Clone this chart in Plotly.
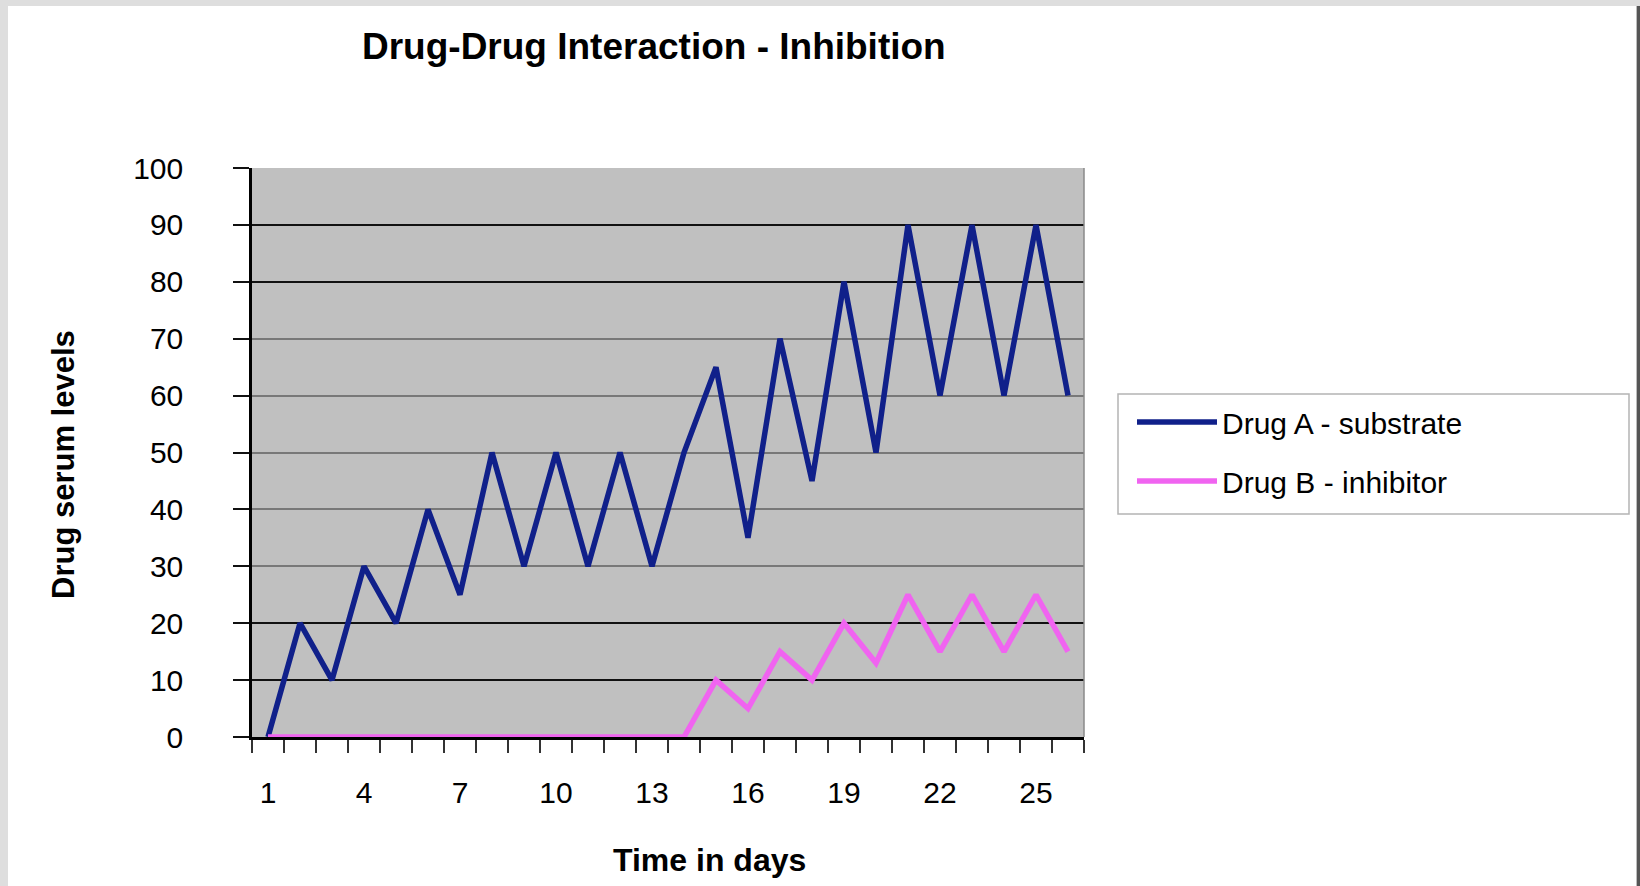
import plotly.graph_objects as go

# Serum levels per day
days = list(range(1, 27))
drug_a = [0, 20, 10, 30, 20, 40, 25, 50, 30, 50, 30, 50, 30, 50,
          65, 35, 70, 45, 80, 50, 90, 60, 90, 60, 90, 60]
drug_b = [0, 0, 0, 0, 0, 0, 0, 0, 0, 0, 0, 0, 0, 0,
          10, 5, 15, 10, 20, 13, 25, 15, 25, 15, 25, 15]
x_tick_labels = [1, 4, 7, 10, 13, 16, 19, 22, 25]
y_ticks = [0, 10, 20, 30, 40, 50, 60, 70, 80, 90, 100]
dark_grid = [10, 20, 80, 90]

W, H = 1640, 886
ML, MR, MT, MB = 252, 556, 168, 149
PW, PH = W - ML - MR, H - MT - MB


def px_x(p):
    return (p - ML) / PW


def px_y(p):
    return (H - MB - p) / PH


FONT = "Liberation Sans, Arial, sans-serif"

fig = go.Figure()
fig.add_trace(go.Scatter(x=days, y=drug_a, mode="lines", name="Drug A - substrate",
                         legendgroup="a",
                         line=dict(color="#10208a", width=5.5)))
fig.add_trace(go.Scatter(x=days, y=drug_b, mode="lines", name="Drug B - inhibitor",
                         legendgroup="b",
                         line=dict(color="#f064f0", width=5.5)))
# carrier for the overlaid axis holding the darker gridlines
fig.add_trace(go.Scatter(x=[], y=[], yaxis="y2", showlegend=False, hoverinfo="skip"))

shapes = []
# right edge of plot area
shapes.append(dict(type="line", xref="paper", yref="paper", x0=1, x1=1, y0=0, y1=1,
                   line=dict(color="#8a8a8a", width=1.5)))
# legend frame
shapes.append(dict(type="rect", xref="paper", yref="paper", x0=px_x(1118), x1=px_x(1629),
                   y0=px_y(514), y1=px_y(394), fillcolor="#ffffff",
                   line=dict(color="#b4b4b4", width=1.5)))
# page frame
shapes.append(dict(type="rect", xref="paper", yref="paper", x0=px_x(0), x1=px_x(8),
                   y0=px_y(H), y1=px_y(0), fillcolor="#dedede", line=dict(width=0), layer="below"))
shapes.append(dict(type="rect", xref="paper", yref="paper", x0=px_x(0), x1=px_x(W),
                   y0=px_y(6), y1=px_y(0), fillcolor="#dedede", line=dict(width=0), layer="below"))
shapes.append(dict(type="rect", xref="paper", yref="paper", x0=px_x(1636), x1=px_x(1637),
                   y0=px_y(H), y1=px_y(6), fillcolor="#bdbdbd", line=dict(width=0), layer="below"))
shapes.append(dict(type="rect", xref="paper", yref="paper", x0=px_x(1637), x1=px_x(W),
                   y0=px_y(H), y1=px_y(6), fillcolor="#555555", line=dict(width=0), layer="below"))

annotations = [
    dict(text="<b>Drug-Drug Interaction - Inhibition</b>", xref="paper", yref="paper",
         x=px_x(654), y=px_y(46), xanchor="center", yanchor="middle", showarrow=False,
         font=dict(family=FONT, size=37, color="#000000")),
    dict(text="<b>Time in days</b>", xref="paper", yref="paper",
         x=px_x(709), y=px_y(860), xanchor="center", yanchor="middle", showarrow=False,
         font=dict(family=FONT, size=32, color="#000000")),
    dict(text="<b>Drug serum levels</b>", xref="paper", yref="paper",
         x=px_x(63), y=px_y(465), xanchor="center", yanchor="middle", showarrow=False,
         textangle=-90, font=dict(family=FONT, size=31, color="#000000")),
]

fig.update_layout(
    width=W, height=H,
    margin=dict(l=ML, r=MR, t=MT, b=MB, autoexpand=False),
    paper_bgcolor="#ffffff",
    plot_bgcolor="#c0c0c0",
    font=dict(family=FONT, size=30, color="#000000"),
    showlegend=True,
    legend=dict(x=px_x(1132), y=px_y(396), xanchor="left", yanchor="top",
                bgcolor="rgba(0,0,0,0)", borderwidth=0, itemwidth=80,
                font=dict(family=FONT, size=30, color="#000000"),
                tracegroupgap=17),
    shapes=shapes,
    annotations=annotations,
    xaxis=dict(
        range=[0.5, 26.5], tickmode="array", tickvals=x_tick_labels,
        ticktext=[str(v) for v in x_tick_labels], ticks="", ticklabelstandoff=27,
        showgrid=False, zeroline=False,
        showline=True, linecolor="#000000", linewidth=2.5,
        minor=dict(tickmode="array", tickvals=[d + 0.5 for d in range(0, 27)],
                   ticks="outside", ticklen=13, tickwidth=2, tickcolor="#333333",
                   showgrid=False),
        tickfont=dict(family=FONT, size=30),
    ),
    yaxis=dict(
        range=[0, 100], tickmode="array", tickvals=y_ticks,
        ticks="outside", ticklen=16, tickwidth=2, tickcolor="#111111",
        ticklabelstandoff=44,
        showgrid=True, gridcolor="#787878", gridwidth=1.5, zeroline=False,
        showline=True, linecolor="#000000", linewidth=2.5,
        tickfont=dict(family=FONT, size=30),
    ),
    yaxis2=dict(
        overlaying="y", side="left", range=[0, 100], tickmode="array",
        tickvals=dark_grid, showticklabels=False, ticks="",
        showgrid=True, gridcolor="#111111", gridwidth=2.2,
        zeroline=False, showline=False,
    ),
)

fig.write_html("out.html")
